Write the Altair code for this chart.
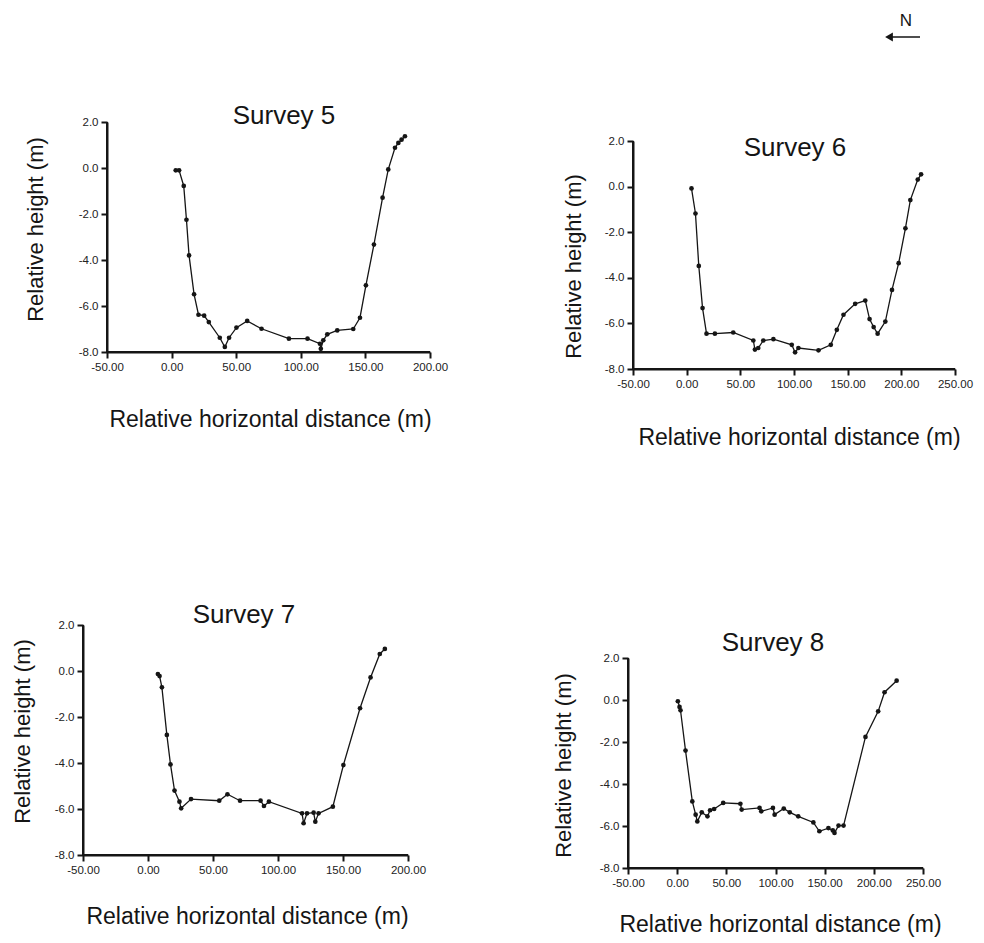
import altair as alt
import pandas as pd

W, H = 984, 943
FONT = "Liberation Sans"
INK = "#151515"

survey_titles = ["Survey 5", "Survey 6", "Survey 7", "Survey 8"]
y_ticks = [-8, -6, -4, -2, 0, 2]
x_ticks_200 = [-50, 0, 50, 100, 150, 200]
x_ticks_250 = [-50, 0, 50, 100, 150, 200, 250]

s5_x = [3.2, 5.8, 9.4, 11.5, 13.5, 17.4, 20.8, 25.2, 28.8, 37.3, 41.2, 44.5, 50.2, 58.5, 69.6,
        90.8, 105.2, 114.8, 115.5, 117.4, 120.5, 128.2, 140.6, 145.8, 150.4, 156.6, 163.3,
        167.7, 172.9, 175.5, 178.0, 180.6]
s5_y = [-0.10, -0.10, -0.78, -2.25, -3.80, -5.49, -6.38, -6.42, -6.70, -7.38, -7.78, -7.38,
        -6.94, -6.65, -6.99, -7.42, -7.42, -7.64, -7.86, -7.49, -7.23, -7.06, -7.00, -6.51,
        -5.10, -3.33, -1.29, -0.06, 0.88, 1.09, 1.23, 1.38]
s6_x = [4.5, 8.2, 11.3, 14.8, 18.5, 26.3, 43.4, 62.1, 63.6, 66.7, 71.4, 80.8, 97.9, 101.0,
        104.1, 122.8, 134.3, 139.9, 146.1, 157.0, 166.4, 170.4, 174.2, 177.9, 185.1, 191.3,
        197.5, 203.8, 208.4, 215.3, 218.4]
s6_y = [-0.08, -1.18, -3.48, -5.33, -6.45, -6.45, -6.40, -6.75, -7.15, -7.08, -6.75, -6.69,
        -6.94, -7.27, -7.08, -7.18, -6.94, -6.28, -5.62, -5.14, -5.00, -5.81, -6.16, -6.45,
        -5.92, -4.53, -3.36, -1.83, -0.59, 0.31, 0.54]
s7_x = [7.6, 8.9, 10.7, 14.5, 17.3, 20.4, 24.2, 25.5, 33.1, 54.8, 61.1, 70.8, 86.6, 89.2,
        93.0, 118.5, 119.7, 122.3, 127.4, 128.7, 131.2, 142.2, 150.3, 163.1, 171.2, 178.3, 182.2]
s7_y = [-0.13, -0.22, -0.71, -2.78, -4.06, -5.20, -5.68, -5.97, -5.57, -5.64, -5.36, -5.64,
        -5.64, -5.87, -5.68, -6.19, -6.62, -6.19, -6.16, -6.55, -6.19, -5.90, -4.09, -1.62,
        -0.28, 0.74, 0.96]
s8_x = [0.7, 2.4, 3.4, 8.5, 15.4, 18.8, 20.5, 25.0, 30.8, 33.5, 37.6, 46.8, 64.3, 65.6, 83.8,
        85.5, 97.4, 99.1, 108.4, 114.5, 123.1, 138.5, 144.6, 153.8, 158.3, 160.0, 164.1, 169.2,
        191.5, 204.4, 210.9, 223.2]
s8_y = [-0.06, -0.33, -0.49, -2.41, -4.83, -5.46, -5.78, -5.35, -5.54, -5.25, -5.19, -4.90,
        -4.94, -5.22, -5.14, -5.30, -5.14, -5.46, -5.17, -5.35, -5.54, -5.83, -6.25, -6.10,
        -6.21, -6.33, -5.98, -5.98, -1.76, -0.54, 0.37, 0.92]

north_label = ["N"]

MINUS_FIX = "replace(format(datum.value, '{fmt}'), '\u2212', '-')"
TICK_LEN = 6
AXIS_W = 2

# panel layout: (x pixel range, y pixel range, x ticks, x-title centre, y-title centre, title centre)
LAYOUT = [
    ([107, 430], [352, 122], x_ticks_200, (270, 419), (35, 229), (284, 116)),
    ([633, 955], [369, 141], x_ticks_250, (799, 437), (573, 266), (795, 148)),
    ([83, 408], [855, 625], x_ticks_200, (247, 916), (22, 731), (244, 615)),
    ([628, 923], [868, 658], x_ticks_250, (780, 924), (563, 765), (773, 643)),
]


def lin(v, d, r):
    return r[0] + (v - d[0]) / (d[1] - d[0]) * (r[1] - r[0])


def panel(xs, ys, title, x_range, y_range, x_ticks, xtitle_c, ytitle_c, title_c):
    x0, x1 = x_ticks[0], x_ticks[-1]
    y0, y1 = y_ticks[0], y_ticks[-1]
    df = pd.DataFrame({"x": xs, "y": ys, "i": list(range(len(xs)))})
    xscale = alt.Scale(domain=[x0, x1], range=x_range, nice=False, zero=False)
    yscale = alt.Scale(domain=[y0, y1], range=y_range, nice=False, zero=False)
    common = dict(
        domain=True, ticks=True, domainColor=INK, domainWidth=AXIS_W,
        tickColor=INK, tickWidth=AXIS_W, tickSize=TICK_LEN,
        labelFlush=False, labelOverlap=False, grid=False, labelPadding=3,
    )
    xaxis = alt.Axis(
        orient="bottom", offset=y_range[0] - H, values=x_ticks,
        labelExpr=MINUS_FIX.format(fmt=".2f"),
        title="Relative horizontal distance (m)",
        titleX=xtitle_c[0], titleY=xtitle_c[1] - y_range[0],
        titleAlign="center", titleBaseline="middle", titleFontSize=23,
        **common,
    )
    yaxis = alt.Axis(
        orient="left", offset=-x_range[0], values=y_ticks,
        labelExpr=MINUS_FIX.format(fmt=".1f"),
        title="Relative height (m)",
        titleX=ytitle_c[0] - x_range[0], titleY=ytitle_c[1],
        titleAngle=270, titleAlign="center", titleBaseline="middle", titleFontSize=22,
        **common,
    )
    base = alt.Chart(df).encode(
        x=alt.X("x:Q", scale=xscale, axis=xaxis),
        y=alt.Y("y:Q", scale=yscale, axis=yaxis),
        order=alt.Order("i:Q"),
    )
    line = base.mark_line(color=INK, strokeWidth=1.3)
    pts = base.mark_circle(color=INK, size=22, opacity=1)
    ttl = alt.Chart(pd.DataFrame({"t": [title]})).mark_text(
        font=FONT, fontSize=26, color=INK, align="center", baseline="middle"
    ).encode(text="t:N", x=alt.value(title_c[0]), y=alt.value(title_c[1]))
    return alt.layer(line, pts, ttl)


series = [(s5_x, s5_y), (s6_x, s6_y), (s7_x, s7_y), (s8_x, s8_y)]
panels = []
segs = []
for (xs, ys), title, (xr, yr, xt, xtc, ytc, tc) in zip(series, survey_titles, LAYOUT):
    panels.append(panel(xs, ys, title, xr, yr, xt, xtc, ytc, tc))
    xd = [xt[0], xt[-1]]
    yd = [y_ticks[0], y_ticks[-1]]
    ax_y = lin(yd[0], yd, yr)
    ax_x = lin(xd[0], xd, xr)
    # axis lines, mapped from the tick extents (backs up the axis domain)
    segs.append({"x1": ax_x, "x2": lin(xd[1], xd, xr), "y1": ax_y, "y2": ax_y})
    segs.append({"x1": ax_x, "x2": ax_x, "y1": ax_y, "y2": lin(yd[1], yd, yr)})

axes_df = pd.DataFrame(segs)
axes_lines = alt.Chart(axes_df).mark_rule(color=INK, strokeWidth=AXIS_W).encode(
    x=alt.X("x1:Q", scale=None), x2="x2:Q",
    y=alt.Y("y1:Q", scale=None), y2="y2:Q",
)

ndf = pd.DataFrame({"t": north_label})
n_text = alt.Chart(ndf).mark_text(font=FONT, fontSize=17, color=INK).encode(
    text="t:N", x=alt.value(906), y=alt.value(21))
n_rule = alt.Chart(ndf).mark_rule(color=INK, strokeWidth=1.5).encode(
    x=alt.value(888), x2=alt.value(920), y=alt.value(37))
n_head = alt.Chart(ndf).mark_point(shape="triangle-left", filled=True, size=80,
                                   color=INK, opacity=1).encode(
    x=alt.value(889), y=alt.value(37))

chart = alt.layer(*panels, axes_lines, n_rule, n_head, n_text).resolve_scale(
    x="independent", y="independent"
).properties(
    width=W, height=H, padding=0,
    autosize=alt.AutoSizeParams(type="none"),
).configure_view(stroke=None).configure_axis(
    grid=False,
    labelFont=FONT, labelFontSize=11.5, labelColor="#222",
    titleFont=FONT, titleFontSize=22, titleFontWeight="normal", titleColor=INK,
)

chart.save("out.html", embed_options={"renderer": "svg", "actions": False})
